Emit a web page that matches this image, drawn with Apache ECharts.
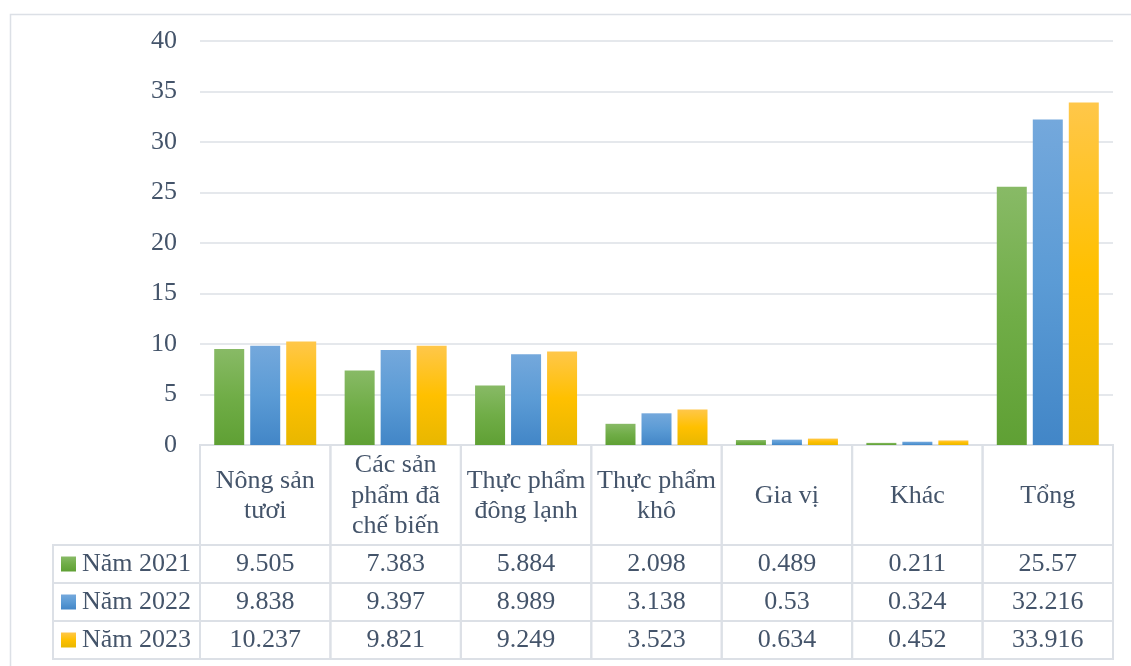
<!DOCTYPE html>
<html>
<head>
<meta charset="utf-8">
<script src="https://cdn.jsdelivr.net/npm/echarts@6/dist/echarts.min.js"></script>
<style>
  html, body { margin: 0; padding: 0; background: #ffffff; }
  #chart { width: 1131px; height: 666px; }
</style>
</head>
<body>
<div id="chart"></div>
<script>
// Categories (shown in the header row of the data table)
const categories = ['Nông sản\ntươi', 'Các sản\nphẩm đã\nchế biến', 'Thực phẩm\nđông lạnh', 'Thực phẩm\nkhô', 'Gia vị', 'Khác', 'Tổng'];
// Series names
const years = ['Năm 2021', 'Năm 2022', 'Năm 2023'];
// Series values
const v2021 = [9.505, 7.383, 5.884, 2.098, 0.489, 0.211, 25.57];
const v2022 = [9.838, 9.397, 8.989, 3.138, 0.53, 0.324, 32.216];
const v2023 = [10.237, 9.821, 9.249, 3.523, 0.634, 0.452, 33.916];
// Value axis ticks
const yMin = 0;
const yMax = 40;
const yStep = 5;

const seriesValues = [v2021, v2022, v2023];

const FONT = '"Liberation Serif", "Times New Roman", serif';
const TEXT = '#44546A';
const RULE = '#DCE0E6';

function grad(top, mid, bottom) {
  return new echarts.graphic.LinearGradient(0, 0, 0, 1, [
    { offset: 0, color: top },
    { offset: 0.5, color: mid },
    { offset: 1, color: bottom }
  ]);
}
const fills = [
  grad('#88BA66', '#70AD47', '#5FA034'),
  grad('#74A8DC', '#5B9BD5', '#4286C7'),
  grad('#FFC74A', '#FFC000', '#E8B700')
];

const chart = echarts.init(document.getElementById('chart'), null, { renderer: 'canvas' });

// Header cells: one per category
const headerData = categories.map((c, i) => [i, 0]);
// Value cells: one per category and year
const cellData = [];
seriesValues.forEach((vals, r) => vals.forEach((v, i) => cellData.push([i, r, v])));
// Legend cells: one per year
const legendData = years.map((y, r) => [0, r]);

function cellRect(c, s) {
  return {
    type: 'rect',
    shape: { x: c[0] - s[0] / 2, y: c[1] - s[1] / 2, width: s[0], height: s[1] },
    style: { fill: 'none', stroke: RULE, lineWidth: 2 }
  };
}

const option = {
  backgroundColor: '#ffffff',
  animation: false,
  graphic: [{
    type: 'rect',
    left: 8, top: 12,
    shape: { width: 1200, height: 720 },
    style: { fill: 'none', stroke: RULE, lineWidth: 1.5 },
    silent: true, z: -1
  }],
  grid: [
    { left: 200, right: 18, top: 41, height: 404 },
    { left: 200, right: 18, top: 445, height: 100 },
    { left: 200, right: 18, top: 545, height: 114 },
    { left: 53, width: 147, top: 545, height: 114 }
  ],
  xAxis: [
    {
      gridIndex: 0, type: 'category', data: categories,
      axisLine: { lineStyle: { color: RULE, width: 2 } },
      axisTick: { show: false }, axisLabel: { show: false }
    },
    { gridIndex: 1, type: 'category', data: categories, show: false },
    { gridIndex: 2, type: 'category', data: categories, show: false },
    { gridIndex: 3, type: 'category', data: [''], show: false }
  ],
  yAxis: [
    {
      gridIndex: 0, type: 'value', min: yMin, max: yMax, interval: yStep,
      axisLine: { show: false }, axisTick: { show: false },
      axisLabel: { fontFamily: FONT, fontSize: 26, color: TEXT, margin: 23 },
      splitLine: { lineStyle: { color: RULE, width: 1.5 } }
    },
    { gridIndex: 1, type: 'category', data: [''], show: false },
    { gridIndex: 2, type: 'category', data: years, inverse: true, show: false },
    { gridIndex: 3, type: 'category', data: years, inverse: true, show: false }
  ],
  series: [
    ...seriesValues.map((vals, k) => ({
      name: years[k], type: 'bar', xAxisIndex: 0, yAxisIndex: 0,
      data: vals, barWidth: 30, barGap: '20%',
      itemStyle: { color: fills[k] }
    })),
    {
      type: 'custom', xAxisIndex: 1, yAxisIndex: 1, data: headerData,
      renderItem(params, api) {
        const i = api.value(0);
        const c = api.coord([i, 0]);
        const s = api.size([1, 1]);
        return {
          type: 'group',
          children: [
            cellRect(c, s),
            {
              type: 'text',
              style: {
                text: categories[i], x: c[0], y: c[1] + 1,
                align: 'center', verticalAlign: 'middle',
                font: '26px ' + FONT, fill: TEXT, lineHeight: 30.5
              }
            }
          ]
        };
      }
    },
    {
      type: 'custom', xAxisIndex: 2, yAxisIndex: 2, data: cellData,
      renderItem(params, api) {
        const i = api.value(0), r = api.value(1), v = api.value(2);
        const c = api.coord([i, r]);
        const s = api.size([1, 1]);
        return {
          type: 'group',
          children: [
            cellRect(c, s),
            {
              type: 'text',
              style: {
                text: String(v), x: c[0], y: c[1],
                align: 'center', verticalAlign: 'middle',
                font: '26px ' + FONT, fill: TEXT
              }
            }
          ]
        };
      }
    },
    {
      type: 'custom', xAxisIndex: 3, yAxisIndex: 3, data: legendData,
      renderItem(params, api) {
        const r = api.value(1);
        const c = api.coord([0, r]);
        const s = api.size([1, 1]);
        const left = c[0] - s[0] / 2;
        return {
          type: 'group',
          children: [
            cellRect(c, s),
            {
              type: 'rect',
              shape: { x: left + 8, y: c[1] - 7.5, width: 15, height: 15 },
              style: { fill: fills[r] }
            },
            {
              type: 'text',
              style: {
                text: years[r], x: left + 29, y: c[1],
                align: 'left', verticalAlign: 'middle',
                font: '26px ' + FONT, fill: TEXT
              }
            }
          ]
        };
      }
    }
  ]
};

chart.setOption(option);
</script>
</body>
</html>
